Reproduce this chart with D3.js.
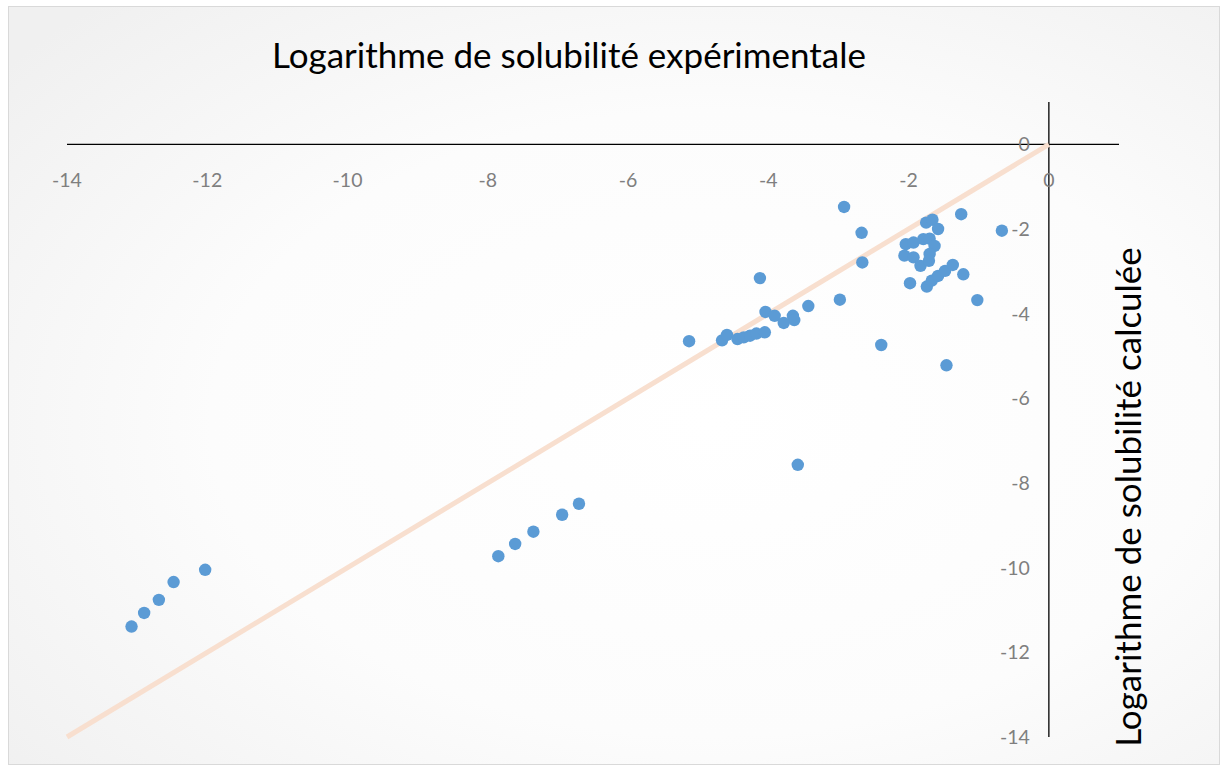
<!DOCTYPE html>
<html>
<head>
<meta charset="utf-8">
<script src="https://cdn.jsdelivr.net/npm/d3@7"></script>
<style>
  body { margin: 0; background: #fff; }
  svg { display: block; }
</style>
</head>
<body>
<div id="chart"></div>
<script>
// experimental log solubility (x) vs calculated (y)
const expValues = [
  -13.08, -12.90, -12.69, -12.48, -12.03,
  -7.85, -7.61, -7.35, -6.94, -6.70,
  -5.13, -4.66, -4.59, -4.44, -4.35, -4.26, -4.17, -4.05,
  -4.12, -4.04, -3.91, -3.78, -3.65, -3.63, -3.43, -2.98,
  -2.92, -2.67, -2.66, -2.39, -3.58,
  -1.75, -1.66, -1.58, -2.04, -1.93, -1.79, -1.70, -1.63, -1.70,
  -2.06, -1.93, -1.83, -1.71, -1.98, -1.74, -1.67, -1.58, -1.48, -1.37,
  -1.25, -0.67, -1.22, -1.02, -1.46
];
const calcValues = [
  -11.39, -11.07, -10.76, -10.34, -10.05,
  -9.73, -9.44, -9.15, -8.75, -8.49,
  -4.65, -4.63, -4.50, -4.60, -4.56, -4.52, -4.47, -4.44,
  -3.16, -3.96, -4.05, -4.22, -4.05, -4.15, -3.82, -3.67,
  -1.48, -2.09, -2.79, -4.74, -7.57,
  -1.85, -1.78, -2.00, -2.36, -2.32, -2.24, -2.23, -2.40, -2.59,
  -2.63, -2.67, -2.87, -2.75, -3.28, -3.36, -3.22, -3.11, -2.99, -2.85,
  -1.65, -2.04, -3.07, -3.68, -5.22
];
const xTicks = [-14, -12, -10, -8, -6, -4, -2, 0];
const yTicks = [0, -2, -4, -6, -8, -10, -12, -14];
const idealLine = [-14, 0];

const W = 1223, H = 769;
const svg = d3.select("#chart").append("svg").attr("width", W).attr("height", H);

// background gradient + border
const defs = svg.append("defs");
const grad = defs.append("radialGradient").attr("id", "bg")
  .attr("cx", "58%").attr("cy", "55%").attr("r", "75%");
grad.append("stop").attr("offset", "0%").attr("stop-color", "#ffffff");
grad.append("stop").attr("offset", "55%").attr("stop-color", "#fcfcfc");
grad.append("stop").attr("offset", "100%").attr("stop-color", "#f0f0f0");
svg.append("rect").attr("x", 8.5).attr("y", 6.5).attr("width", 1211).attr("height", 758)
  .attr("fill", "url(#bg)").attr("stroke", "#d9d9d9").attr("stroke-width", 1);

const x = d3.scaleLinear().domain([-14, 1]).range([67, 1119]);
const y = d3.scaleLinear().domain([-14, 1]).range([737, 102]);

// axes crossing at origin
svg.append("line")
  .attr("x1", x(-14)).attr("x2", x(1)).attr("y1", y(0)).attr("y2", y(0))
  .attr("stroke", "#000").attr("stroke-width", 1.3);
svg.append("line")
  .attr("x1", x(0)).attr("x2", x(0)).attr("y1", y(1)).attr("y2", y(-14))
  .attr("stroke", "#000").attr("stroke-width", 1.3);

const font = "Lato, sans-serif";
svg.append("g").selectAll("text").data(xTicks).join("text")
  .attr("x", d => x(d)).attr("y", y(0) + 43)
  .attr("text-anchor", "middle")
  .attr("font-family", font).attr("font-size", 19.5).attr("fill", "#7f7f7f")
  .text(d => d);

svg.append("g").selectAll("text").data(yTicks).join("text")
  .attr("x", x(0) - 19).attr("y", d => y(d) + 7)
  .attr("text-anchor", "end")
  .attr("font-family", font).attr("font-size", 19.5).attr("fill", "#7f7f7f")
  .text(d => d);

// y = x reference line
svg.append("line")
  .attr("x1", x(idealLine[0])).attr("y1", y(idealLine[0]))
  .attr("x2", x(idealLine[1])).attr("y2", y(idealLine[1]))
  .attr("stroke", "#f8dfcf").attr("stroke-width", 5);

// points
const pts = expValues.map((v, i) => ({ x: v, y: calcValues[i] }));
svg.append("g").selectAll("circle").data(pts).join("circle")
  .attr("cx", d => x(d.x)).attr("cy", d => y(d.y)).attr("r", 6.2)
  .attr("fill", "#5b9bd5");

// titles
svg.append("text")
  .attr("x", 569).attr("y", 68)
  .attr("text-anchor", "middle")
  .attr("font-family", font).attr("font-size", 35).attr("fill", "#000")
  .text("Logarithme de solubilité expérimentale");

svg.append("text")
  .attr("transform", "translate(1141,497) rotate(-90)")
  .attr("text-anchor", "middle")
  .attr("font-family", font).attr("font-size", 35).attr("fill", "#000")
  .text("Logarithme de solubilité calculée");
</script>
</body>
</html>
